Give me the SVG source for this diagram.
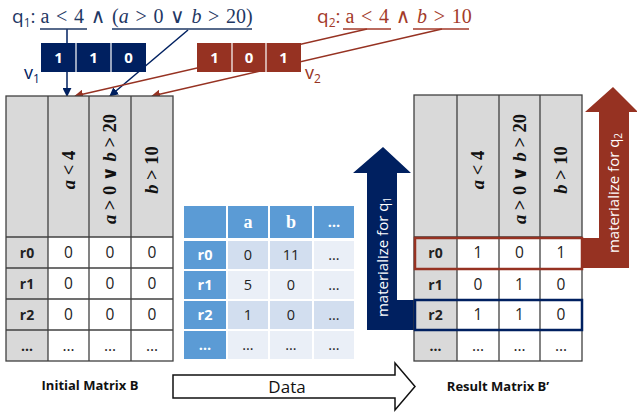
<svg xmlns="http://www.w3.org/2000/svg" width="637" height="414" viewBox="0 0 637 414">
<defs>
<style>
.sans{font-family:"Open Sans","Liberation Sans",sans-serif;}
.math{font-family:"Liberation Serif","DejaVu Serif",serif;}
.grid{stroke:#404040;stroke-width:1.3;}
.hdr{fill:#D9D9D9;}
.cell{fill:#FFFFFF;}
.lbl{font-family:"Open Sans","Liberation Sans",sans-serif;font-weight:bold;font-size:14px;fill:#222;text-anchor:middle;}
.val{font-family:"Open Sans","Liberation Sans",sans-serif;font-size:15.5px;fill:#222;text-anchor:middle;}
.hmath{font-family:"Liberation Serif","DejaVu Serif",serif;font-weight:bold;font-size:18.5px;fill:#111;text-anchor:middle;}
.dh{fill:#5B9BD5;}
.dd{fill:#D2DEEF;}
.dl{fill:#EAEFF7;}
.dv{font-family:"Open Sans","Liberation Sans",sans-serif;font-size:14.5px;fill:#222;text-anchor:middle;}
.dw{font-family:"Open Sans","Liberation Sans",sans-serif;font-size:14.5px;font-weight:bold;fill:#fff;text-anchor:middle;}
.bit{font-family:"Open Sans","Liberation Sans",sans-serif;font-size:15px;font-weight:bold;fill:#fff;text-anchor:middle;}
.navy{stroke:#002060;}
.red{stroke:#963222;}
</style>
<marker id="ahN" viewBox="0 0 10 10" refX="9" refY="5" markerWidth="6" markerHeight="6" orient="auto"><path d="M0,0 L10,5 L0,10 z" fill="#002060"/></marker>
<marker id="ahR" viewBox="0 0 10 10" refX="9" refY="5" markerWidth="6" markerHeight="6" orient="auto"><path d="M0,0 L10,5 L0,10 z" fill="#963222"/></marker>
</defs>

<!-- connectors -->
<g id="connectors" fill="none" stroke-width="1.5">
  <line x1="67" y1="29" x2="67" y2="43" class="navy"/>
  <line x1="67" y1="72" x2="67" y2="96" class="navy" marker-end="url(#ahN)"/>
  <line x1="188" y1="30" x2="110" y2="96" class="navy" marker-end="url(#ahN)"/>
  <line x1="367" y1="29" x2="75" y2="96" class="red" marker-end="url(#ahR)"/>
  <line x1="442" y1="29" x2="152" y2="96" class="red" marker-end="url(#ahR)"/>
</g>

<!-- q1 query -->
<g id="q1" fill="#1F3864">
  <text x="12" y="23" font-size="19"><tspan class="sans">q</tspan><tspan class="sans" font-size="12" dy="4">1</tspan><tspan class="sans" dy="-4">: </tspan><tspan class="math" font-size="20" word-spacing="1.7">a &lt; 4 ∧ (<tspan font-style="italic">a</tspan> &gt; 0 ∨ <tspan font-style="italic">b</tspan> &gt; 20)</tspan></text>
  <line x1="40" y1="29" x2="87" y2="29" stroke="#1F3864" stroke-width="1.5"/>
  <line x1="112" y1="29" x2="252" y2="29" stroke="#1F3864" stroke-width="1.5"/>
</g>

<!-- q2 query -->
<g id="q2" fill="#A33A2A">
  <text x="317" y="23" font-size="19"><tspan class="sans">q</tspan><tspan class="sans" font-size="12" dy="4">2</tspan><tspan class="sans" dy="-4">: </tspan><tspan class="math" font-size="20" word-spacing="1.7">a &lt; 4 ∧ <tspan font-style="italic">b</tspan> &gt; 10</tspan></text>
  <line x1="343" y1="29" x2="391" y2="29" stroke="#A33A2A" stroke-width="1.5"/>
  <line x1="413" y1="29" x2="469" y2="29" stroke="#A33A2A" stroke-width="1.5"/>
</g>

<!-- v1 -->
<g id="v1">
  <rect x="41" y="43" width="105" height="29" fill="#002060"/>
  <line x1="76" y1="43" x2="76" y2="72" stroke="#fff" stroke-width="1.2"/>
  <line x1="111" y1="43" x2="111" y2="72" stroke="#fff" stroke-width="1.2"/>
  <text x="58.5" y="63" class="bit">1</text>
  <text x="93.5" y="63" class="bit">1</text>
  <text x="128.5" y="63" class="bit">0</text>
  <text x="24" y="79" class="sans" font-size="18" fill="#002060">v<tspan font-size="12" dy="4">1</tspan></text>
</g>

<!-- v2 -->
<g id="v2">
  <rect x="197" y="43" width="104" height="29" fill="#963222"/>
  <line x1="232" y1="43" x2="232" y2="72" stroke="#fff" stroke-width="1.2"/>
  <line x1="266" y1="43" x2="266" y2="72" stroke="#fff" stroke-width="1.2"/>
  <text x="214.5" y="63" class="bit">1</text>
  <text x="249" y="63" class="bit">0</text>
  <text x="283.5" y="63" class="bit">1</text>
  <text x="305" y="79" class="sans" font-size="18" fill="#963222">v<tspan font-size="12" dy="4">2</tspan></text>
</g>

<!-- initial matrix B -->
<g id="matrixB">
  <rect x="6" y="96" width="167" height="141" class="hdr"/>
  <rect x="6" y="237" width="42" height="124" class="hdr"/>
  <rect x="48" y="237" width="125" height="124" class="cell"/>
  <g class="grid">
    <rect x="6" y="96" width="167" height="265" fill="none"/>
    <line x1="48" y1="96" x2="48" y2="361"/>
    <line x1="89" y1="96" x2="89" y2="361"/>
    <line x1="131" y1="96" x2="131" y2="361"/>
    <line x1="6" y1="237" x2="173" y2="237"/>
    <line x1="6" y1="268" x2="173" y2="268"/>
    <line x1="6" y1="299" x2="173" y2="299"/>
    <line x1="6" y1="330" x2="173" y2="330"/>
  </g>
  <text class="hmath" transform="translate(68.5,170) rotate(-90)" dy="6"><tspan font-style="italic">a</tspan> &lt; 4</text>
  <text class="hmath" transform="translate(110,169) rotate(-90)" dy="6"><tspan font-style="italic">a</tspan> &gt; 0 ∨ <tspan font-style="italic">b</tspan> &gt; 20</text>
  <text class="hmath" transform="translate(152,170) rotate(-90)" dy="6"><tspan font-style="italic">b</tspan> &gt; 10</text>
  <text x="27" y="258" class="lbl">r0</text>
  <text x="27" y="289" class="lbl">r1</text>
  <text x="27" y="320" class="lbl">r2</text>
  <text x="27" y="351" class="lbl">…</text>
  <text x="68.5" y="258" class="val">0</text><text x="110" y="258" class="val">0</text><text x="152" y="258" class="val">0</text>
  <text x="68.5" y="289" class="val">0</text><text x="110" y="289" class="val">0</text><text x="152" y="289" class="val">0</text>
  <text x="68.5" y="320" class="val">0</text><text x="110" y="320" class="val">0</text><text x="152" y="320" class="val">0</text>
  <text x="68.5" y="351" class="val">…</text><text x="110" y="351" class="val">…</text><text x="152" y="351" class="val">…</text>
  <text x="90" y="390" class="sans" font-size="13" font-weight="bold" fill="#111" text-anchor="middle">Initial Matrix B</text>
</g>

<!-- data table -->
<g id="data" stroke="#fff" stroke-width="2">
  <rect x="183" y="205" width="44" height="34" class="dh"/>
  <rect x="227" y="205" width="42" height="34" class="dh"/>
  <rect x="269" y="205" width="44" height="34" class="dh"/>
  <rect x="313" y="205" width="42" height="34" class="dh"/>
  <rect x="183" y="240" width="44" height="30" class="dh"/>
  <rect x="183" y="270" width="44" height="30" class="dh"/>
  <rect x="183" y="300" width="44" height="30" class="dh"/>
  <rect x="183" y="330" width="44" height="30" class="dh"/>
  <rect x="227" y="240" width="42" height="30" class="dd"/><rect x="269" y="240" width="44" height="30" class="dd"/><rect x="313" y="240" width="42" height="30" class="dl"/>
  <rect x="227" y="270" width="42" height="30" class="dl"/><rect x="269" y="270" width="44" height="30" class="dl"/><rect x="313" y="270" width="42" height="30" class="dl"/>
  <rect x="227" y="300" width="42" height="30" class="dd"/><rect x="269" y="300" width="44" height="30" class="dd"/><rect x="313" y="300" width="42" height="30" class="dd"/>
  <rect x="227" y="330" width="42" height="30" class="dl"/><rect x="269" y="330" width="44" height="30" class="dl"/><rect x="313" y="330" width="42" height="30" class="dl"/>
</g>
<g id="data-text">
  <text x="248" y="228" class="math" font-size="18" font-weight="bold" fill="#fff" text-anchor="middle">a</text>
  <text x="291" y="228" class="math" font-size="18" font-weight="bold" fill="#fff" text-anchor="middle">b</text>
  <text x="334" y="227" class="dw">…</text>
  <text x="205" y="260" class="dw">r0</text>
  <text x="205" y="290" class="dw">r1</text>
  <text x="205" y="320" class="dw">r2</text>
  <text x="205" y="350" class="dw">…</text>
  <text x="248" y="260" class="dv">0</text><text x="291" y="260" class="dv">11</text><text x="334" y="260" class="dv">…</text>
  <text x="248" y="290" class="dv">5</text><text x="291" y="290" class="dv">0</text><text x="334" y="290" class="dv">…</text>
  <text x="248" y="320" class="dv">1</text><text x="291" y="320" class="dv">0</text><text x="334" y="320" class="dv">…</text>
  <text x="248" y="350" class="dv">…</text><text x="291" y="350" class="dv">…</text><text x="334" y="350" class="dv">…</text>
</g>

<!-- materialize arrows -->
<g id="arrow-q1">
  <path d="M367,330 L367,173 L353,173 L383,147 L411,173 L397,173 L397,300 L414,300 L414,330 Z" fill="#002060"/>
  <text transform="translate(383,257) rotate(-90)" dy="5" class="sans" font-size="15" fill="#fff" text-anchor="middle">materialize for q<tspan font-size="10" dy="3">1</tspan></text>
</g>
<g id="arrow-q2">
  <path d="M583,238 L599,238 L599,112 L585,112 L613,87 L638,112 L629,112 L629,268 L583,268 Z" fill="#963222"/>
  <text transform="translate(614,193) rotate(-90)" dy="5" class="sans" font-size="15" fill="#fff" text-anchor="middle">materialize for q<tspan font-size="10" dy="3">2</tspan></text>
</g>

<!-- result matrix B' -->
<g id="matrixBprime">
  <rect x="414" y="95" width="168" height="142" class="hdr"/>
  <rect x="414" y="237" width="43" height="124" class="hdr"/>
  <rect x="457" y="237" width="125" height="124" class="cell"/>
  <g class="grid">
    <rect x="414" y="95" width="168" height="266" fill="none"/>
    <line x1="457" y1="95" x2="457" y2="361"/>
    <line x1="499" y1="95" x2="499" y2="361"/>
    <line x1="540" y1="95" x2="540" y2="361"/>
    <line x1="414" y1="237" x2="582" y2="237"/>
    <line x1="414" y1="269" x2="582" y2="269"/>
    <line x1="414" y1="300" x2="582" y2="300"/>
    <line x1="414" y1="330" x2="582" y2="330"/>
  </g>
  <text class="hmath" transform="translate(478,170) rotate(-90)" dy="6"><tspan font-style="italic">a</tspan> &lt; 4</text>
  <text class="hmath" transform="translate(519.5,169) rotate(-90)" dy="6"><tspan font-style="italic">a</tspan> &gt; 0 ∨ <tspan font-style="italic">b</tspan> &gt; 20</text>
  <text class="hmath" transform="translate(561,170) rotate(-90)" dy="6"><tspan font-style="italic">b</tspan> &gt; 10</text>
  <text x="435.5" y="258" class="lbl">r0</text>
  <text x="435.5" y="290" class="lbl">r1</text>
  <text x="435.5" y="320" class="lbl">r2</text>
  <text x="435.5" y="351" class="lbl">…</text>
  <text x="478" y="258" class="val">1</text><text x="519.5" y="258" class="val">0</text><text x="561" y="258" class="val">1</text>
  <text x="478" y="290" class="val">0</text><text x="519.5" y="290" class="val">1</text><text x="561" y="290" class="val">0</text>
  <text x="478" y="320" class="val">1</text><text x="519.5" y="320" class="val">1</text><text x="561" y="320" class="val">0</text>
  <text x="478" y="351" class="val">…</text><text x="519.5" y="351" class="val">…</text><text x="561" y="351" class="val">…</text>
  <rect x="415" y="238" width="167" height="31" fill="none" stroke="#963222" stroke-width="2.5"/>
  <rect x="415" y="300" width="167" height="30" fill="none" stroke="#002060" stroke-width="2.5"/>
  <text x="498" y="391" class="sans" font-size="13" font-weight="bold" fill="#111" text-anchor="middle">Result Matrix B’</text>
</g>

<!-- data arrow -->
<g id="data-arrow">
  <path d="M173,375 L395,375 L395,363 L415,386.5 L395,410 L395,398 L173,398 Z" fill="#fff" stroke="#111" stroke-width="1.5"/>
  <text x="287" y="393" class="sans" font-size="17" fill="#111" text-anchor="middle">Data</text>
</g>
</svg>
